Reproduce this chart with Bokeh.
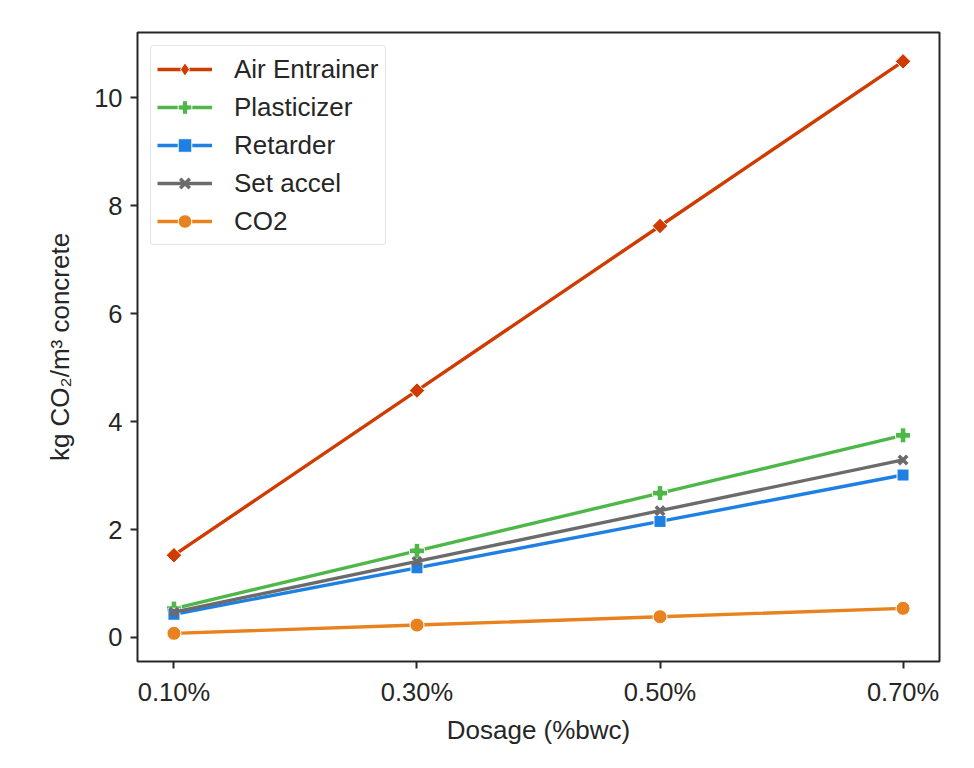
from bokeh.plotting import figure
from bokeh.models import FixedTicker, Range1d, Legend, LegendItem
from bokeh.embed import file_html
from bokeh.resources import INLINE

dosage_labels = ["0.10%", "0.30%", "0.50%", "0.70%"]
air_entrainer = [1.525, 4.575, 7.625, 10.675]
plasticizer = [0.535, 1.605, 2.675, 3.745]
retarder = [0.43, 1.29, 2.15, 3.01]
set_accel = [0.47, 1.41, 2.35, 3.29]
co2 = [0.077, 0.23, 0.385, 0.54]

series = [
    ("Air Entrainer", air_entrainer, "#d03c00", "square", 11, 0.785398, "diamond"),
    ("Plasticizer", plasticizer, "#4db848", "plus", 15, 0.0, None),
    ("Retarder", retarder, "#1f80e3", "square", 12, 0.0, None),
    ("Set accel", set_accel, "#6b6b6b", "x", 12, 0.0, None),
    ("CO2", co2, "#e8821e", "circle", 14, 0.0, None),
]

FONT = "Liberation Sans"
x = list(range(len(dosage_labels)))

p = figure(output_backend="svg", toolbar_location=None,
           frame_width=802, frame_height=629,
           min_border_left=137, min_border_top=32, min_border_right=22, min_border_bottom=100,
           x_range=Range1d(-0.15, 3.15), y_range=Range1d(-0.445, 11.21),
           background_fill_color="white", border_fill_color="white")

p.grid.visible = False
p.outline_line_color = "#262626"
p.outline_line_width = 2

for ax in (p.xaxis[0], p.yaxis[0]):
    ax.axis_line_color = None
    ax.major_tick_line_color = "#262626"
    ax.major_tick_line_width = 2
    ax.major_tick_out = 7
    ax.major_tick_in = 0
    ax.minor_tick_line_color = None
    ax.major_label_text_font = FONT
    ax.major_label_text_font_size = "25.5px"
    ax.major_label_text_color = "#262626"
    ax.axis_label_text_font = FONT
    ax.axis_label_text_font_size = "26px"
    ax.axis_label_text_font_style = "normal"
    ax.axis_label_text_color = "#262626"

p.xaxis[0].ticker = FixedTicker(ticks=x)
p.xaxis[0].major_label_overrides = {i: lab for i, lab in enumerate(dosage_labels)}
p.xaxis[0].major_label_standoff = 9
p.xaxis[0].axis_label = "Dosage (%bwc)"
p.xaxis[0].axis_label_standoff = 6

p.yaxis[0].ticker = FixedTicker(ticks=[0, 2, 4, 6, 8, 10])
p.yaxis[0].major_label_standoff = 8
p.yaxis[0].axis_label = "kg CO\u2082/m\u00b3 concrete"
p.yaxis[0].axis_label_standoff = 16

items = []
for name, vals, color, marker, size, ang, legend_marker in series:
    r1 = p.line(x, vals, line_color=color, line_width=3.4)
    is_line_marker = marker == "x"
    r2 = p.scatter(x, vals, marker=marker, size=size, angle=ang, fill_color=color,
                   line_color=color if is_line_marker else "white",
                   line_width=3.5 if is_line_marker else 1)
    if legend_marker is not None:
        # legend-only proxy (placed outside the visible range)
        r_leg = p.scatter([-10], [-10], marker=legend_marker, size=size,
                          fill_color=color, line_color="white", line_width=1)
        items.append(LegendItem(label=name, renderers=[r1, r_leg]))
    else:
        items.append(LegendItem(label=name, renderers=[r1, r2]))

legend = Legend(items=items, location="top_left",
                margin=13, padding=6,
                glyph_width=55, glyph_height=34, label_height=34,
                spacing=4, label_standoff=22,
                label_text_font=FONT, label_text_font_size="26px",
                label_text_color="#262626",
                border_line_color="#cccccc", border_line_width=1.5,
                border_radius=4,
                background_fill_color="white", background_fill_alpha=0.85)
p.add_layout(legend)

open("out.html", "w").write(file_html(p, INLINE))
